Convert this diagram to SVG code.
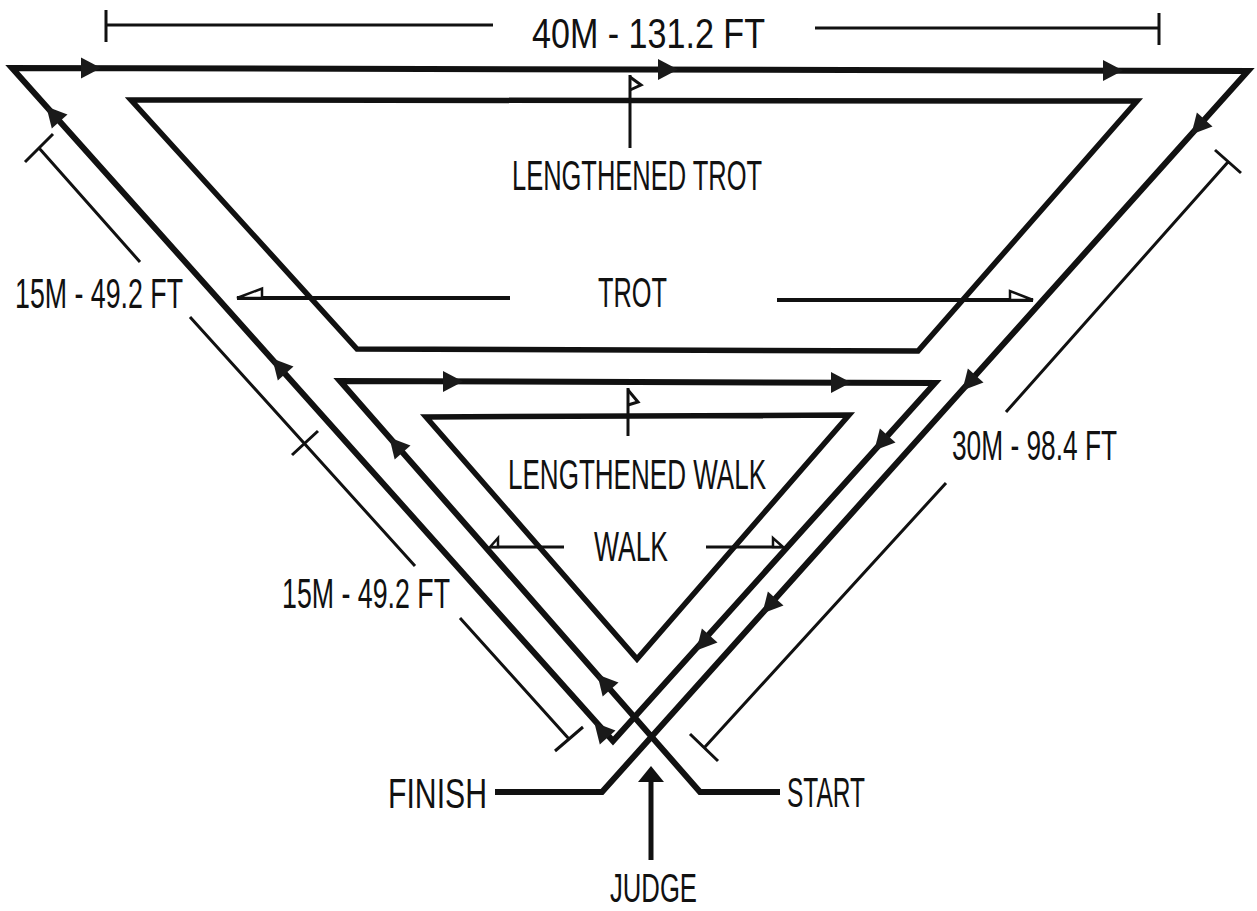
<svg xmlns="http://www.w3.org/2000/svg" width="1257" height="911" viewBox="0 0 1257 911">
<style>
.bg{fill:#fff}
.path{fill:none;stroke:#111;stroke-width:6;stroke-linejoin:miter;stroke-miterlimit:6}
.track{fill:none;stroke:#111;stroke-width:5.5;stroke-linejoin:miter;stroke-miterlimit:6}
.dim{fill:none;stroke:#111;stroke-width:3}
.ptr{fill:none;stroke:#111;stroke-width:4}
.open{fill:#fff;stroke:#111;stroke-width:2.5;stroke-linejoin:miter}
.flag{fill:none;stroke:#111;stroke-width:3}
.lbl{font-family:"Liberation Sans",Arial,sans-serif;font-size:42px;fill:#111}
.arr{fill:#1a1a1a}
</style>
<defs>
<path id="ah" d="M10,0 L-10,-10.5 L-10,10.5 Z"/>
</defs>
<rect class="bg" width="1257" height="911"/>

<g id="trot-track">
<path class="track" d="M131,100 L1137,101 L918,351 L357,349 Z"/>
</g>
<g id="walk-track">
<path class="track" d="M426,417 L849,415 L637,659 Z"/>
</g>

<g id="connectors">
<path class="path" d="M780,792 L700,792 L340,381 L935,383 L613,741 L12,68 L1248,71 L602,792 L495,792"/>
<g class="arr">
<use href="#ah" transform="translate(91,68)"/>
<use href="#ah" transform="translate(668,69.5)"/>
<use href="#ah" transform="translate(1113,70.5)"/>
<use href="#ah" transform="translate(1198,127) rotate(132)"/>
<use href="#ah" transform="translate(969,383) rotate(132)"/>
<use href="#ah" transform="translate(769,606) rotate(132)"/>
<use href="#ah" transform="translate(453,381.5)"/>
<use href="#ah" transform="translate(841,382.5)"/>
<use href="#ah" transform="translate(881,443) rotate(132)"/>
<use href="#ah" transform="translate(703,643) rotate(132)"/>
<use href="#ah" transform="translate(53,114) rotate(-131.6)"/>
<use href="#ah" transform="translate(279,366) rotate(-131.6)"/>
<use href="#ah" transform="translate(601,730) rotate(-131.6)"/>
<use href="#ah" transform="translate(396,445) rotate(-131.2)"/>
<use href="#ah" transform="translate(604,682) rotate(-131.2)"/>
</g>
</g>

<g id="dimensions">
<path class="dim" d="M106,10 V42 M106,25 H493 M815,28 H1159 M1159,13 V45"/>
<path class="dim" d="M25,162 L53,134 M39,148 L140,262 M190,317 L415,566 M292,455 L318,431"/>
<path class="dim" d="M460,618 L569,739 M555,751 L583,727"/>
<path class="dim" d="M1215,150 L1241,173 M1228,162 L1006,412 M946,483 L704,748 M690,734 L718,761"/>
</g>

<g id="gait-pointers">
<path class="ptr" d="M237,298 H510 M777,300 H1033"/>
<path class="open" d="M237,298 L262,288.5 L262,298 Z"/>
<path class="open" d="M1033,300 L1010,291 L1010,300 Z"/>
<path class="dim" d="M490,547 H564 M706,547 H783"/>
<path class="open" d="M490,547 L498,538 L498,547 Z"/>
<path class="open" d="M783,547 L773,538 L773,547 Z"/>
</g>

<g id="flags">
<path class="flag" d="M630,75 V148"/>
<path class="flag" d="M630,77 L641,85 L630,90"/>
<path class="flag" d="M628,388 V436"/>
<path class="flag" d="M628,390 L638,402 L628,405"/>
</g>

<g id="judge">
<path d="M651,860 V778" stroke="#111" stroke-width="5" fill="none"/>
<path d="M651,766 L638,782 L664,782 Z" fill="#111"/>
</g>

<g id="labels">
<text class="lbl" x="532" y="48" textLength="233" lengthAdjust="spacingAndGlyphs">40M - 131.2 FT</text>
<text class="lbl" x="512" y="190" textLength="250" lengthAdjust="spacingAndGlyphs">LENGTHENED TROT</text>
<text class="lbl" x="598" y="307" textLength="69" lengthAdjust="spacingAndGlyphs">TROT</text>
<text class="lbl" x="15" y="308" textLength="168" lengthAdjust="spacingAndGlyphs">15M - 49.2 FT</text>
<text class="lbl" x="952" y="460" textLength="165" lengthAdjust="spacingAndGlyphs">30M - 98.4 FT</text>
<text class="lbl" x="508" y="489" textLength="258" lengthAdjust="spacingAndGlyphs">LENGTHENED WALK</text>
<text class="lbl" x="594" y="561" textLength="74" lengthAdjust="spacingAndGlyphs">WALK</text>
<text class="lbl" x="282" y="608" textLength="168" lengthAdjust="spacingAndGlyphs">15M - 49.2 FT</text>
<text class="lbl" x="388" y="808" textLength="99" lengthAdjust="spacingAndGlyphs">FINISH</text>
<text class="lbl" x="787" y="807" textLength="78" lengthAdjust="spacingAndGlyphs">START</text>
<text class="lbl" x="610" y="902" style="font-size:40px" textLength="87" lengthAdjust="spacingAndGlyphs">JUDGE</text>
</g>
</svg>
